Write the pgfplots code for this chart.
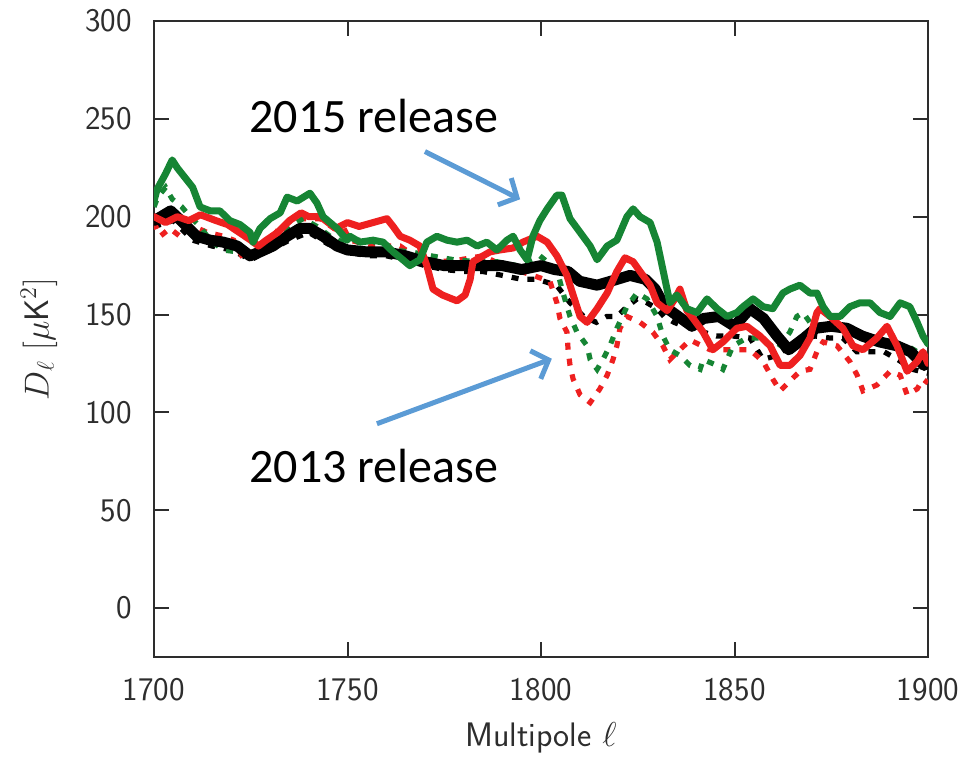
\documentclass[border=0pt]{standalone}
\usepackage{pgfplots}
\pgfplotsset{compat=1.18}
\usepackage{fontspec}
\newfontfamily\calibri{Carlito}
\usetikzlibrary{arrows.meta}

\definecolor{pgreen}{RGB}{22,133,52}
\definecolor{pred}{RGB}{238,32,32}
\definecolor{arrowblue}{RGB}{91,155,213}
\definecolor{axisgray}{RGB}{45,45,45}

\begin{document}
\begin{tikzpicture}
\useasboundingbox (-77pt,-50pt) rectangle (404.5pt,328.5pt);
\begin{axis}[
  at={(0pt,0pt)}, anchor=south west,
  scale only axis, width=387pt, height=318pt,
  xmin=1700, xmax=1900, ymin=-25, ymax=300,
  xtick={1700,1750,...,1900}, ytick={0,50,...,300},
  minor tick num=0,
  tick align=inside, major tick length=7.5pt,
  axis line style={line width=1.4pt, axisgray},
  every tick/.style={line width=1pt, axisgray},
  tick label style={font=\fontsize{16.5}{20}\selectfont\sffamily, text=axisgray},
  /pgf/number format/assume math mode=true,
  /pgf/number format/1000 sep={},
  xticklabel style={yshift=-7pt},
  yticklabel style={xshift=-7.5pt},
  xlabel={Multipole $\ell$},
  ylabel={$D_\ell$ $[\mu\mathsf{K}^2]$},
  label style={font=\fontsize{17}{20}\selectfont\sffamily, text=axisgray},
  xlabel style={at={(axis description cs:0.5,-0.1409)}, anchor=base},
  ylabel style={at={(axis description cs:-0.1486,0.5)}, anchor=center},
  dots13/.style={line width=2.6pt, dash pattern=on 3.5pt off 4.5pt},
  line15/.style={line width=3.5pt, line join=round, line cap=round},
]

% 2013 release (dotted)
\addplot[dots13, black] coordinates {
(1700,195)(1705,198)(1710,188)(1715,185)(1720,183)(1725,178)(1730,183)(1735,188)
(1740,192)(1745,186)(1750,182)(1755,180)(1760,180)(1765,178)(1770,175)(1775,173)
(1780,172)(1785,172)(1790,170)(1795,168)(1799,168)(1804,165)(1807.5,156)(1811,149)
(1814.3,146)(1817,149)(1819.6,149)(1822.2,154)(1824.8,158)(1827.4,156)(1830,153)
(1831.8,149)(1834.4,146)(1837,144)(1839.5,144)(1842,141)(1845.3,139)(1849.6,139)
(1854,138)(1857.4,127)(1860.7,129)(1864.3,134)(1867.7,138)(1871,139)(1874.7,138)
(1878,138)(1881.6,131)(1885.3,131)(1888.6,131)(1892.2,127)(1896,122)(1900,120)};

\addplot[dots13, pred] coordinates {
(1700,197)(1701.6,190)(1704.1,194)(1706.7,190)(1710.3,195)(1713.7,192)(1718,190)
(1720.6,188)(1723.2,178)(1726.6,183)(1729.8,188)(1732.4,194)(1736.2,199)(1739.5,199)
(1742.9,199)(1746.5,194)(1749.1,194)(1750.6,188)(1756.6,185)(1763.6,185)(1768.7,178)
(1773.9,177)(1779.1,178)(1785,180)(1791.2,174)(1796.4,171)(1802.3,167)(1804.1,156)
(1804.9,148)(1806.7,141)(1807,132)(1807.5,124)(1808.3,117)(1810.1,109)(1812.7,105)
(1815.2,112)(1817.1,119)(1818.6,127)(1819.6,134)(1820.4,143)(1822.2,149)(1825.6,146)
(1828.9,141)(1831.5,134)(1833.3,127)(1835.9,132)(1838.5,137)(1843.7,132)(1848.8,132)
(1854,132)(1857.4,126)(1859.9,117)(1861.8,111)(1864.3,116)(1866.9,121)(1869.5,122)
(1871.3,131)(1872.9,136)(1876.5,134)(1879.8,126)(1881.7,119)(1883.2,111)(1886.8,114)
(1890.2,121)(1892.8,119)(1894.6,109)(1897.2,112)(1898.7,117)(1900,115)};

\addplot[dots13, pgreen] coordinates {
(1700,205)(1701,210)(1703,215)(1704.7,209)(1707.2,205)(1709.3,200)(1711.9,195)
(1714.5,188)(1717.9,183)(1721.5,182)(1724.8,182)(1728.2,187)(1731.8,190)(1735.1,195)
(1738.5,199)(1742.1,195)(1745.5,190)(1748.8,187)(1752,188)(1756,188)(1761.3,183)
(1766.4,182)(1771.6,180)(1777.5,178)(1783.5,177)(1788.6,177)(1793.8,175)(1799.7,180)
(1804.1,173)(1805.7,161)(1807.5,149)(1809.3,141)(1811.9,134)(1812.7,127)(1814.5,122)
(1816,127)(1817.8,134)(1819.6,143)(1822.2,154)(1824.8,161)(1827.4,158)(1830,149)
(1831.5,139)(1833.3,132)(1835.9,129)(1838.5,124)(1841.1,122)(1841.9,127)(1845.5,124)
(1847,122)(1849.6,134)(1853.2,138)(1856.6,138)(1861,132)(1864.3,141)(1866.1,149)
(1867.7,151)(1869.5,146)(1872.1,144)(1876.5,143)(1880.6,141)(1885,138)(1890.2,134)
(1894.6,134)(1897.2,131)(1898.7,127)(1900,125)};

% 2015 release (solid)
\addplot[line15, black, line width=5.5pt] coordinates {
(1700,198)(1701.8,200)(1704.3,203)(1707.5,197)(1711,190)(1714.5,188)(1717.9,187)
(1721.5,185)(1724.8,180)(1727.4,182)(1730.7,185)(1734.4,190)(1737.7,194)(1740.3,194)
(1743.7,190)(1747.3,185)(1750,183)(1755,182)(1760,182)(1765,180)(1770,177)(1775,175)
(1780,175)(1785,175)(1790,175)(1795,173)(1800,175)(1803.5,173)(1807,172)(1810,167)
(1814.5,165)(1818,167)(1823,170)(1827,168)(1829.5,163)(1832,154)(1835.5,149)(1839,144)
(1842,148)(1846,149)(1850,144)(1854,153)(1857.5,148)(1861,139)(1864,132)(1868,138)
(1871,143)(1875,144)(1879,143)(1883,139)(1887.5,136)(1892,134)(1895.5,131)(1899,124)
(1900,126)};

\addplot[line15, pred] coordinates {
(1700,200)(1703,197)(1706,200)(1709,198)(1712,201)(1716,198)(1719,196)(1722,192)
(1725,188)(1727,185)(1729,188)(1732,192)(1735,198)(1738,202)(1740,200)(1743,200)
(1747,194)(1750,197)(1753,195)(1756.6,197)(1760.2,199)(1761.8,195)(1763.6,190)
(1766.1,188)(1768.7,185)(1770.5,175)(1772.1,163)(1774.5,160)(1777,158)(1778.3,157)
(1780.4,160)(1781.7,168)(1782.4,177)(1786.8,182)(1789.4,183)(1792.8,184)(1795.3,187)
(1799,190)(1801.6,187)(1804.1,180)(1806.7,170)(1808.3,160)(1810.1,149)(1811.9,146)
(1814.5,153)(1817.1,161)(1819.6,172)(1821.7,179)(1823.8,177)(1825.6,172)(1828.2,165)
(1830,156)(1832.6,152)(1834.6,158)(1835.9,163)(1837.7,152)(1839.3,148)(1841.9,141)
(1844.4,132)(1847,136)(1850.6,143)(1853.2,144)(1856.6,139)(1859.2,134)(1861.8,124)
(1864.3,124)(1866.9,129)(1869.5,138)(1871.3,151)(1872.1,153)(1874.7,149)(1878,143)
(1880.6,134)(1883.2,132)(1886.8,138)(1889.4,144)(1892,134)(1894.6,121)(1897.2,126)
(1898.7,131)(1900,125)};

\addplot[line15, pgreen] coordinates {
(1700,208)(1700.8,214)(1703,222)(1704.7,229)(1706,225)(1707.2,222)(1710,215)
(1711.9,205)(1714.5,203)(1717,203)(1719.6,198)(1722.2,196)(1724.8,192)(1725.6,187)
(1727.4,194)(1730,199)(1732.6,202)(1734.4,210)(1737,208)(1740.3,212)(1742.1,207)
(1743.7,200)(1747.3,194)(1749.9,188)(1750.6,190)(1753.2,187)(1756.6,188)(1759.2,187)
(1761.8,182)(1764.3,178)(1766.1,175)(1768.7,178)(1770.5,187)(1773.1,190)(1775.7,188)
(1778.3,187)(1780.9,188)(1783.5,185)(1786,187)(1788.6,183)(1791.2,188)(1792.8,190)
(1794.6,183)(1796.4,178)(1797.9,190)(1799.7,198)(1801.6,204)(1804.1,211)(1805.4,211)
(1807.5,199)(1810.1,192)(1812.7,185)(1814.5,178)(1817.1,185)(1819.6,188)(1822.2,200)
(1823.8,204)(1825.6,200)(1828.2,197)(1830,187)(1831.5,173)(1833.3,156)(1835.1,160)
(1837.7,153)(1840.3,151)(1842.9,158)(1845.5,153)(1848.1,149)(1850.6,151)(1852.2,154)
(1854.8,158)(1857.4,154)(1859.9,153)(1862.5,161)(1864.3,163)(1866.9,165)(1869.5,161)
(1871.3,161)(1872.9,154)(1874.7,149)(1877.3,149)(1879.8,154)(1882.4,156)(1885,156)
(1887.6,151)(1890.2,149)(1892.8,156)(1895.3,154)(1897.2,146)(1898.7,139)(1900,135)};

% annotations
\node[font=\calibri\fontsize{24}{28}\selectfont] at (axis cs:1756.8,251.6) {2015 release};
\node[font=\calibri\fontsize{24}{28}\selectfont] at (axis cs:1756.8,72.8) {2013 release};
\draw[arrowblue, line width=2.5pt, -{Straight Barb[length=7pt,width=15pt]}]
  (axis cs:1770,233.3) -- (axis cs:1794.6,208.9);
\draw[arrowblue, line width=2.5pt, -{Straight Barb[length=7pt,width=15pt]}]
  (axis cs:1757.6,94.2) -- (axis cs:1802.8,127.4);
\end{axis}
\end{tikzpicture}
\end{document}
